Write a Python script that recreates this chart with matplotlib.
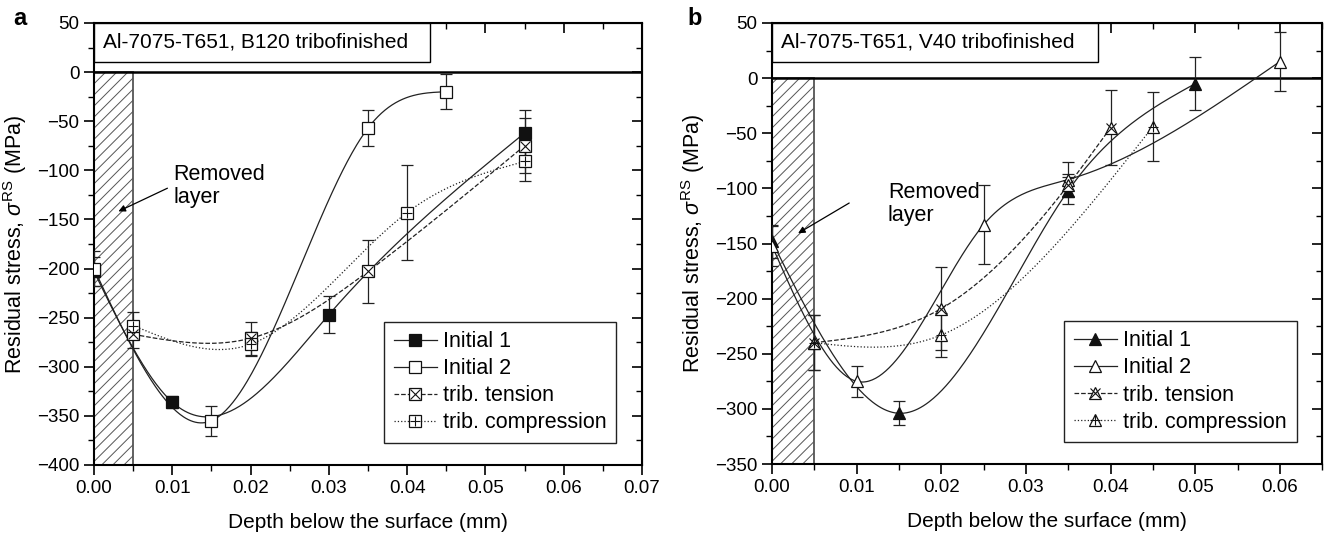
import numpy as np
import matplotlib
matplotlib.use('Agg')
import matplotlib.pyplot as plt
from matplotlib.lines import Line2D
from matplotlib.patches import Rectangle
from matplotlib.legend_handler import HandlerTuple
from matplotlib.ticker import MultipleLocator, FormatStrFormatter

plt.rcParams['font.family'] = ['Liberation Sans', 'DejaVu Sans']
plt.rcParams['mathtext.fontset'] = 'custom'
plt.rcParams['mathtext.rm'] = 'Liberation Sans'
plt.rcParams['mathtext.it'] = 'Liberation Sans:italic'
plt.rcParams['hatch.linewidth'] = 0.7

# --------- Data: panel a (B120) ---------
a_i1_x = [0.0, 0.01, 0.03, 0.055]
a_i1_y = [-203, -336, -247, -62]
a_i1_e = [15, 6, 19, 23]

a_i2_x = [0.0, 0.015, 0.035, 0.045]
a_i2_y = [-200, -355, -57, -20]
a_i2_e = [18, 15, 18, 18]

a_ten_x = [0.005, 0.02, 0.035, 0.055]
a_ten_y = [-267, -271, -203, -75]
a_ten_e = [14, 17, 32, 28]

a_com_x = [0.005, 0.02, 0.04, 0.055]
a_com_y = [-258, -277, -143, -91]
a_com_e = [14, 12, 48, 20]

# --------- Data: panel b (V40) ---------
b_i1_x = [0.0, 0.015, 0.035, 0.05]
b_i1_y = [-148, -304, -102, -5]
b_i1_e = [15, 11, 12, 24]

b_i2_x = [0.0, 0.01, 0.025, 0.035, 0.06]
b_i2_y = [-152, -275, -133, -92, 15]
b_i2_e = [18, 14, 36, 16, 27]

b_ten_x = [0.005, 0.02, 0.035, 0.04]
b_ten_y = [-240, -209, -97, -45]
b_ten_e = [25, 38, 10, 34]

b_com_x = [0.005, 0.02, 0.045]
b_com_y = [-240, -233, -44]
b_com_e = [25, 20, 31]

labels = ['Initial 1', 'Initial 2', 'trib. tension', 'trib. compression']


def natural_spline(x, y, n=300):
    # smooth connection line through the measured points (natural cubic spline)
    x = np.asarray(x, float)
    y = np.asarray(y, float)
    k = len(x)
    h = np.diff(x)
    A = np.zeros((k, k))
    r = np.zeros(k)
    A[0, 0] = A[-1, -1] = 1
    for i in range(1, k - 1):
        A[i, i - 1] = h[i - 1]
        A[i, i] = 2 * (h[i - 1] + h[i])
        A[i, i + 1] = h[i]
        r[i] = 6 * ((y[i + 1] - y[i]) / h[i] - (y[i] - y[i - 1]) / h[i - 1])
    M = np.linalg.solve(A, r)
    xs = np.linspace(x[0], x[-1], n)
    idx = np.clip(np.searchsorted(x, xs) - 1, 0, k - 2)
    x0, x1 = x[idx], x[idx + 1]
    hh = x1 - x0
    t0 = x1 - xs
    t1 = xs - x0
    ys = (M[idx] * t0**3 + M[idx + 1] * t1**3) / (6 * hh) \
        + (y[idx] / hh - M[idx] * hh / 6) * t0 \
        + (y[idx + 1] / hh - M[idx + 1] * hh / 6) * t1
    return xs, ys


def draw_series(ax, x, y, e, ls, marker, fill, overlay):
    xs, ys = natural_spline(x, y)
    ax.plot(xs, ys, color='#222222', lw=0.9, ls=ls, zorder=3)
    ax.errorbar(x, y, yerr=e, fmt='none', ecolor='#222222', elinewidth=0.9,
                capsize=4, capthick=0.9, zorder=4)
    ax.plot(x, y, ls='none', marker=marker, ms=8, mfc=fill, mec='#111111',
            mew=0.9, zorder=5)
    if overlay:
        ax.plot(x, y, ls='none', marker=overlay, ms=6.5, mec='#111111',
                mew=0.8, zorder=6)


def legend_handle(ls, marker, fill, overlay):
    h = Line2D([], [], color='#222222', lw=0.9, ls=ls, marker=marker, ms=8,
               mfc=fill, mec='#111111', mew=0.9)
    if overlay:
        h2 = Line2D([], [], ls='none', marker=overlay, ms=6.5, mec='#111111', mew=0.8)
        return (h, h2)
    return (h,)


def setup_axes(ax, xmax, ymin, title, title_w):
    ax.set_xlim(0, xmax)
    ax.set_ylim(ymin, 50)
    ax.xaxis.set_major_locator(MultipleLocator(0.01))
    ax.xaxis.set_minor_locator(MultipleLocator(0.005))
    ax.xaxis.set_major_formatter(FormatStrFormatter('%.2f'))
    ax.yaxis.set_major_locator(MultipleLocator(50))
    ax.yaxis.set_minor_locator(MultipleLocator(25))
    ax.tick_params(which='major', direction='out', length=7, width=1.2, labelsize=13.5)
    ax.tick_params(which='minor', direction='out', length=4, width=1.0)
    for s in ax.spines.values():
        s.set_linewidth(1.5)
    # mirrored inward ticks on top and right
    top = ax.secondary_xaxis('top')
    top.xaxis.set_major_locator(MultipleLocator(0.01))
    top.xaxis.set_minor_locator(MultipleLocator(0.005))
    right = ax.secondary_yaxis('right')
    right.yaxis.set_major_locator(MultipleLocator(50))
    right.yaxis.set_minor_locator(MultipleLocator(25))
    for sec in (top, right):
        sec.tick_params(which='major', direction='in', length=7, width=1.2,
                        labelleft=False, labelright=False, labeltop=False)
        sec.tick_params(which='minor', direction='in', length=4, width=1.0)
    ax.axhline(0, color='k', lw=1.8, zorder=2)
    ax.add_patch(Rectangle((0, ymin), 0.005, -ymin, facecolor='white',
                           edgecolor='#555555', hatch='///', lw=1.3, zorder=1))
    ax.add_patch(Rectangle((0, 0.912), title_w, 0.088, transform=ax.transAxes,
                           facecolor='white', edgecolor='k', lw=1.0, zorder=7))
    ax.text(0.016, 0.956, title, transform=ax.transAxes, fontsize=15,
            ha='left', va='center', zorder=8)
    ax.set_xlabel('Depth below the surface (mm)', fontsize=15, labelpad=12)
    ax.set_ylabel(r'Residual stress, $\sigma^{\rm RS}$ (MPa)', fontsize=15.5, labelpad=6)


fig = plt.figure(figsize=(13.24, 5.36), dpi=100)
ax1 = fig.add_axes([0.0710, 0.1325, 0.4139, 0.8246])
ax2 = fig.add_axes([0.5831, 0.1343, 0.4155, 0.8228])

styles = [('-', 's', '#111111', None), ('-', 's', 'white', None),
          ('--', 's', 'white', 'x'), (':', 's', 'white', '+')]
panel_a = [(a_i1_x, a_i1_y, a_i1_e), (a_i2_x, a_i2_y, a_i2_e),
           (a_ten_x, a_ten_y, a_ten_e), (a_com_x, a_com_y, a_com_e)]
for (x, y, e), st in zip(panel_a, styles):
    draw_series(ax1, x, y, e, *st)

styles_b = [('-', '^', '#111111', None), ('-', '^', 'white', None),
            ('--', '^', 'white', 'x'), (':', '^', 'white', '+')]
panel_b = [(b_i1_x, b_i1_y, b_i1_e), (b_i2_x, b_i2_y, b_i2_e),
           (b_ten_x, b_ten_y, b_ten_e), (b_com_x, b_com_y, b_com_e)]
for (x, y, e), st in zip(panel_b, styles_b):
    draw_series(ax2, x, y, e, *st)

setup_axes(ax1, 0.07, -400, 'Al-7075-T651, B120 tribofinished', 0.613)
setup_axes(ax2, 0.065, -350, 'Al-7075-T651, V40 tribofinished', 0.593)

for ax, st in ((ax1, styles), (ax2, styles_b)):
    handles = [legend_handle(*s) for s in st]
    leg = ax.legend(handles, labels, loc='lower right', fontsize=15.5,
                    handler_map={tuple: HandlerTuple(ndivide=1)},
                    frameon=True, fancybox=False, framealpha=1,
                    edgecolor='#222222', handlelength=2.0, labelspacing=0.28,
                    borderpad=0.45, handletextpad=0.3,
                    bbox_to_anchor=(0.973, 0.025))
    leg.get_frame().set_linewidth(1.0)
    leg.set_zorder(9)

# removed layer annotations
ax1.annotate('', xy=(0.0028, -143), xytext=(0.0097, -117),
             arrowprops=dict(arrowstyle='-|>', color='k', lw=0.9, mutation_scale=10), zorder=8)
ax1.text(0.0101, -116, 'Removed\nlayer', fontsize=15.5, ha='left', va='center',
         linespacing=1.15)
ax2.annotate('', xy=(0.0028, -142), xytext=(0.0094, -112),
             arrowprops=dict(arrowstyle='-|>', color='k', lw=0.9, mutation_scale=10), zorder=8)
ax2.text(0.0137, -114, 'Removed\nlayer', fontsize=15.5, ha='left', va='center',
         linespacing=1.15)

fig.text(0.0098, 0.953, 'a', fontsize=17, fontweight='bold')
fig.text(0.5196, 0.953, 'b', fontsize=17, fontweight='bold')

fig.savefig('out.png', dpi=100)
